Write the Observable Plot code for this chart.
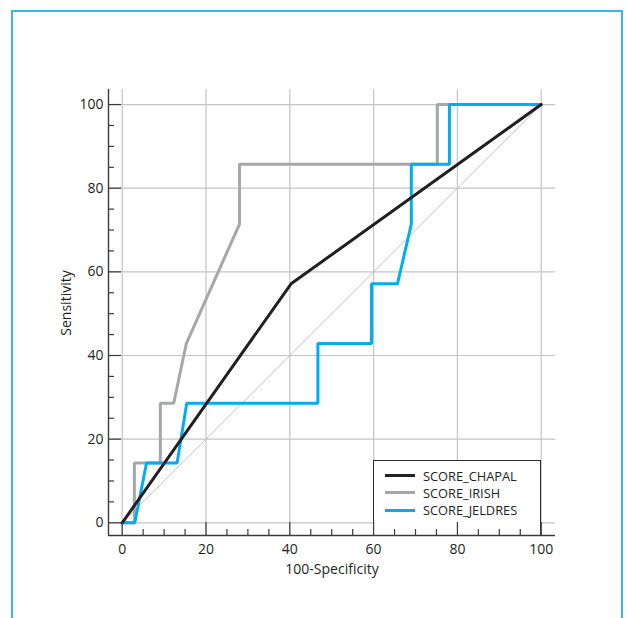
<!DOCTYPE html>
<html>
<head>
<meta charset="utf-8">
<script src="https://cdn.jsdelivr.net/npm/d3@7"></script>
<script src="https://cdn.jsdelivr.net/npm/@observablehq/plot@0.6"></script>
<style>
  html, body { margin: 0; padding: 0; background: #fff; overflow: hidden; }
  #wrap { position: relative; width: 627px; height: 618px; overflow: hidden; font-family: 'Open Sans', sans-serif; color: #231f20; }
  #border { position: absolute; left: 11px; top: 10px; width: 612px; height: 640px; border: 2px solid #3cb6ea; box-sizing: border-box; }
  .layer { position: absolute; left: 0; top: 0; }
  #legend { position: absolute; left: 373px; top: 460px; width: 168px; height: 75px; box-sizing: border-box;
            border: 1.4px solid #2b2b2b; border-bottom: none; background: #fff; padding: 6px 0 0 11px; }
  .row { display: flex; align-items: center; height: 17.3px; font-size: 12.8px; }
  .sw { width: 30px; height: 3px; margin-right: 8px; }
</style>
</head>
<body>
<div id="wrap">
  <div id="border"></div>
</div>
<script>
// ---- data ----
const series = ["SCORE_CHAPAL", "SCORE_IRISH", "SCORE_JELDRES"];
const colors = ["#231f20", "#a5a7aa", "#00aeef"];

const fprChapal  = [0, 40.3, 100];
const sensChapal = [0, 57.14, 100];

const fprIrish  = [0, 2.9, 2.9, 9.1, 9.1, 12.3, 15.3, 28.0, 28.0, 75.2, 75.2, 100];
const sensIrish = [0, 0, 14.29, 14.29, 28.57, 28.57, 42.86, 71.43, 85.71, 85.71, 100, 100];

const fprJeldres  = [0, 3.0, 5.8, 13.1, 15.4, 46.7, 46.7, 59.5, 59.5, 65.7, 69.0, 69.0, 78.1, 78.1, 100];
const sensJeldres = [0, 0, 14.29, 14.29, 28.57, 28.57, 42.86, 42.86, 57.14, 57.14, 71.43, 85.71, 85.71, 100, 100];

const diagX = [0, 100];
const diagY = [0, 100];

const majorTicks = [0, 20, 40, 60, 80, 100];
const minorTicks = [5, 10, 15, 25, 30, 35, 45, 50, 55, 65, 70, 75, 85, 90, 95];

const xTitle = "100-Specificity";
const yTitle = "Sensitivity";

// ---- helpers ----
const toRows = (xs, ys) => xs.map((x, i) => ({x, y: ys[i]}));
const chapal = toRows(fprChapal, sensChapal);
const irish = toRows(fprIrish, sensIrish);
const jeldres = toRows(fprJeldres, sensJeldres);
const diag = toRows(diagX, diagY);

const W = 627, H = 618;
const xDomain = [-3.27, 103.41];
const yDomain = [-3.04, 103.6];
const common = {
  width: W, height: H,
  marginTop: 89, marginRight: 72, marginBottom: 83, marginLeft: 108,
  x: {domain: xDomain, axis: null},
  y: {domain: yDomain, axis: null},
  style: {background: "transparent", fontFamily: "'Open Sans', sans-serif", fontSize: "14px", color: "#231f20", overflow: "visible"}
};

const wrap = document.getElementById("wrap");

// base layer: grid + curves
const baseLayer = Plot.plot({
  ...common,
  marks: [
    Plot.gridX(majorTicks, {stroke: "#c4c4c4", strokeOpacity: 1, strokeWidth: 1.2}),
    Plot.gridY(majorTicks, {stroke: "#c4c4c4", strokeOpacity: 1, strokeWidth: 1.2}),
    Plot.line(diag, {x: "x", y: "y", stroke: "#c0c0c0", strokeWidth: 1}),
    Plot.line(irish, {x: "x", y: "y", stroke: colors[1], strokeWidth: 3, strokeLinejoin: "miter"}),
    Plot.line(jeldres, {x: "x", y: "y", stroke: colors[2], strokeWidth: 3, strokeLinejoin: "miter"}),
    Plot.line(chapal, {x: "x", y: "y", stroke: colors[0], strokeWidth: 3, strokeLinejoin: "miter"})
  ]
});
baseLayer.classList.add("layer");
wrap.appendChild(baseLayer);

// legend (HTML)
const legend = document.createElement("div");
legend.id = "legend";
series.forEach((s, i) => {
  const row = document.createElement("div");
  row.className = "row";
  const sw = document.createElement("div");
  sw.className = "sw";
  sw.style.background = colors[i];
  const t = document.createElement("span");
  t.textContent = s;
  row.appendChild(sw); row.appendChild(t);
  legend.appendChild(row);
});
wrap.appendChild(legend);

// top layer: axes, ticks, labels
const axisColor = "#3a3a3a";
const topLayer = Plot.plot({
  ...common,
  marks: [
    Plot.axisX(majorTicks, {tickSize: -13, fill: "none", stroke: axisColor, strokeWidth: 1.2, label: null}),
    Plot.axisX(minorTicks, {tickSize: -6, fill: "none", stroke: axisColor, strokeWidth: 1.2, label: null}),
    Plot.axisX(majorTicks, {tickSize: 0, tickPadding: 9, fill: "#231f20", label: null}),
    Plot.axisY(majorTicks, {tickSize: -13, fill: "none", stroke: axisColor, strokeWidth: 1.2, label: null}),
    Plot.axisY(minorTicks, {tickSize: -6, fill: "none", stroke: axisColor, strokeWidth: 1.2, label: null}),
    Plot.axisY(majorTicks, {tickSize: 0, tickPadding: 5, fill: "#231f20", label: null}),
    Plot.ruleX([xDomain[0]], {stroke: axisColor, strokeWidth: 1.4}),
    Plot.ruleY([yDomain[0]], {stroke: axisColor, strokeWidth: 1.4}),
    Plot.text([xTitle], {text: d => d, frameAnchor: "bottom", textAnchor: "middle", dy: 38, fill: "#231f20"}),
    Plot.text([yTitle], {text: d => d, frameAnchor: "left", textAnchor: "middle", dx: -42, dy: -9.5, rotate: -90, fill: "#231f20"})
  ]
});
topLayer.classList.add("layer");
topLayer.style.pointerEvents = "none";
wrap.appendChild(topLayer);
</script>
</body>
</html>
